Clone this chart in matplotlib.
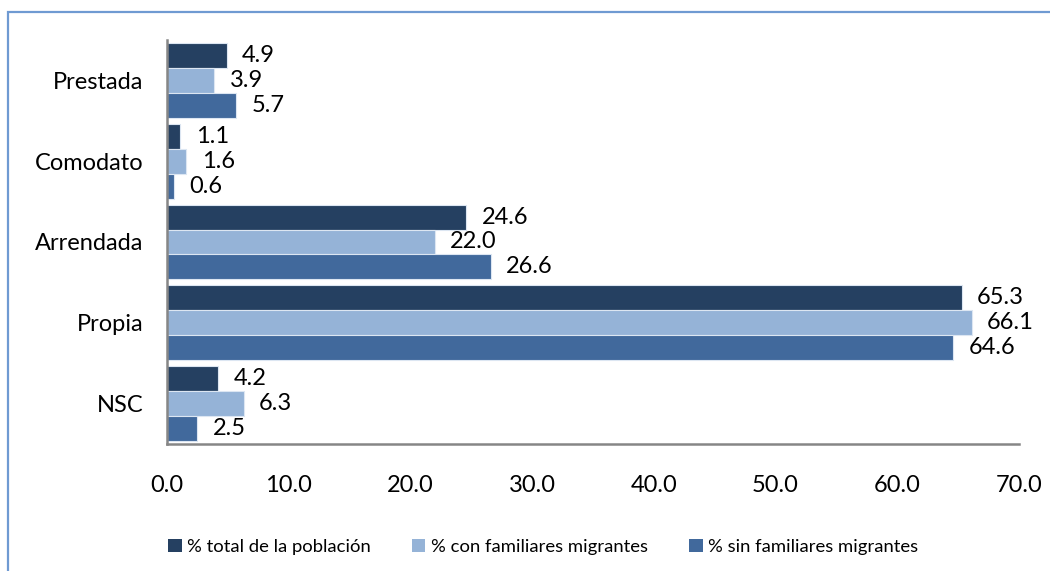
import matplotlib
matplotlib.use("Agg")
import matplotlib.pyplot as plt
from matplotlib.patches import Rectangle, Patch
import numpy as np

plt.rcParams['font.family'] = ['Lato', 'DejaVu Sans']

categories = ["Prestada", "Comodato", "Arrendada", "Propia", "NSC"]
series_names = ["% total de la población", "% con familiares migrantes", "% sin familiares migrantes"]
total = [4.9, 1.1, 24.6, 65.3, 4.2]
con_migrantes = [3.9, 1.6, 22.0, 66.1, 6.3]
sin_migrantes = [5.7, 0.6, 26.6, 64.6, 2.5]
x_ticks = [0.0, 10.0, 20.0, 30.0, 40.0, 50.0, 60.0, 70.0]

series = [total, con_migrantes, sin_migrantes]
colors = ["#254061", "#95B3D7", "#41699C"]

fig = plt.figure(figsize=(10.5, 5.71), dpi=100)
ax = fig.add_axes([167 / 1050, 1 - 444 / 571, (1019 - 167) / 1050, (444 - 40) / 571])

y = np.arange(len(categories))
h = 0.308
for i, (vals, col) in enumerate(zip(series, colors)):
    pos = y + (i - 1) * h
    ax.barh(pos, vals, height=h, color=col, edgecolor="#dce6f2", linewidth=0.8)
    for p, v in zip(pos, vals):
        ax.annotate(f"{v:.1f}", xy=(v, p), xytext=(11, 0), textcoords="offset points",
                    ha="left", va="center", fontsize=17, color="black")

ax.set_xlim(0, 70)
ax.set_ylim(len(categories) - 0.5, -0.5)
ax.set_yticks(y)
ax.set_yticklabels(categories, fontsize=17)
ax.set_xticks(x_ticks)
ax.set_xticklabels([f"{t:.1f}" for t in x_ticks], fontsize=17)
ax.tick_params(axis="both", length=0)
ax.tick_params(axis="x", pad=22)
ax.tick_params(axis="y", pad=17)
for s in ["top", "right"]:
    ax.spines[s].set_visible(False)
for s in ["left", "bottom"]:
    ax.spines[s].set_color("#868686")
    ax.spines[s].set_linewidth(1.8)

handles = [Patch(facecolor=c, edgecolor="none") for c in colors]
fig.legend(handles, series_names, loc="center", bbox_to_anchor=(543 / 1050, 1 - 547 / 571),
           ncol=3, frameon=False, fontsize=13.3, handlelength=0.75, handleheight=0.75,
           handletextpad=0.3, columnspacing=2.2)

fig.patches.append(Rectangle((8 / 1050, -0.05), 1.1, 1 - 12 / 571 + 0.05,
                             transform=fig.transFigure, fill=False,
                             edgecolor="#6F9AD2", linewidth=1.6, clip_on=False))

fig.savefig("out.png", dpi=100)
